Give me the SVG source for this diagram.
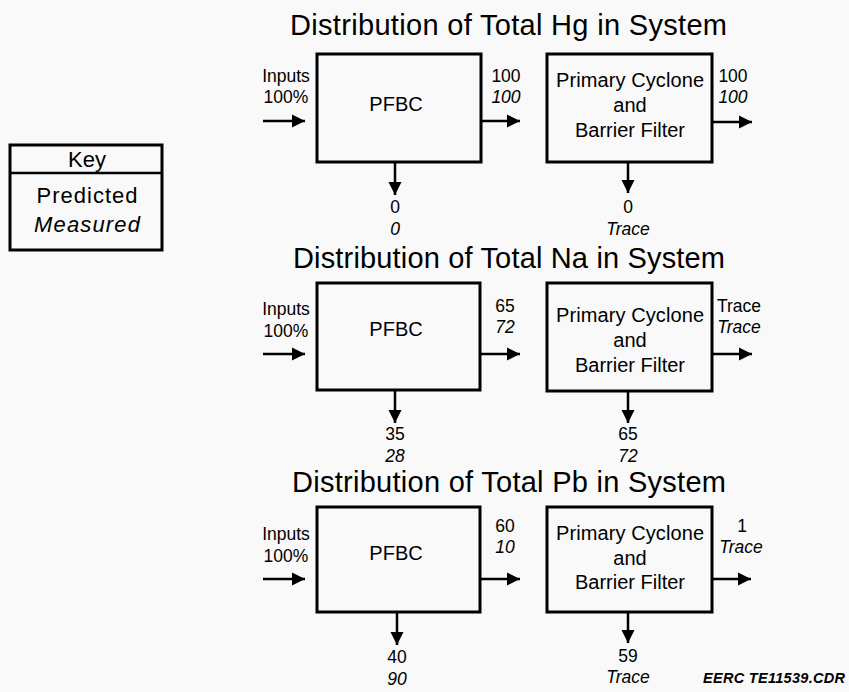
<svg xmlns="http://www.w3.org/2000/svg" width="849" height="692" viewBox="0 0 849 692">
<defs>
<marker id="ah" markerUnits="userSpaceOnUse" markerWidth="14" markerHeight="14" refX="13" refY="7" orient="auto" viewBox="0 0 14 14">
<path d="M0,0.5 L13,7 L0,13.5 z" fill="#000"/>
</marker>
<style>
text{font-family:"Liberation Sans",Arial,Helvetica,sans-serif;fill:#000}
.t{font-size:29px}
.b{font-size:20px;text-anchor:middle}
.l{font-size:17.5px;text-anchor:middle}
.i{font-style:italic}
.k{font-size:22px;text-anchor:middle}
.box{fill:none;stroke:#000;stroke-width:3}
.c{fill:none;stroke:#000;stroke-width:2.5;marker-end:url(#ah)}
</style>
</defs>
<rect width="849" height="692" fill="#f8f9f8"/>

<g id="key">
<rect class="box" x="10" y="145" width="152" height="105"/>
<line x1="10" y1="173" x2="162" y2="173" stroke="#000" stroke-width="2.5"/>
<text class="k" x="87" y="167">Key</text>
<text class="k" x="87" y="203" textLength="101">Predicted</text>
<text class="k i" x="87" y="232" textLength="106">Measured</text>
</g>

<g id="titles">
<text class="t" x="290" y="35" textLength="437">Distribution of Total Hg in System</text>
<text class="t" x="293" y="268" textLength="432">Distribution of Total Na in System</text>
<text class="t" x="292" y="492" textLength="434">Distribution of Total Pb in System</text>
</g>

<g id="hg-pfbc">
<rect class="box" x="317" y="54" width="164" height="108"/>
<text class="b" x="396" y="111">PFBC</text>
</g>
<g id="hg-cyclone">
<rect class="box" x="547" y="54" width="165" height="108"/>
<text class="b" x="630" y="87" textLength="148">Primary Cyclone</text>
<text class="b" x="630" y="112">and</text>
<text class="b" x="630" y="137">Barrier Filter</text>
</g>

<g id="na-pfbc">
<rect class="box" x="317" y="283" width="163" height="107"/>
<text class="b" x="396" y="336">PFBC</text>
</g>
<g id="na-cyclone">
<rect class="box" x="547" y="283" width="165" height="108"/>
<text class="b" x="630" y="322" textLength="148">Primary Cyclone</text>
<text class="b" x="630" y="347">and</text>
<text class="b" x="630" y="372">Barrier Filter</text>
</g>

<g id="pb-pfbc">
<rect class="box" x="317" y="507" width="163" height="105"/>
<text class="b" x="396" y="560">PFBC</text>
</g>
<g id="pb-cyclone">
<rect class="box" x="547" y="507" width="165" height="105"/>
<text class="b" x="630" y="540" textLength="148">Primary Cyclone</text>
<text class="b" x="630" y="565">and</text>
<text class="b" x="630" y="589">Barrier Filter</text>
</g>

<g id="connectors">
<path class="c" d="M263,121 H305"/>
<path class="c" d="M481,121 H520"/>
<path class="c" d="M712,122 H752"/>
<path class="c" d="M395,162 V195"/>
<path class="c" d="M628,162 V193"/>

<path class="c" d="M263,354 H305"/>
<path class="c" d="M480,354 H520"/>
<path class="c" d="M712,354 H752"/>
<path class="c" d="M395,390 V423"/>
<path class="c" d="M628,391 V423"/>

<path class="c" d="M263,579 H305"/>
<path class="c" d="M480,579 H520"/>
<path class="c" d="M712,579 H751"/>
<path class="c" d="M397,612 V645"/>
<path class="c" d="M628,612 V643"/>
</g>

<g id="labels">
<text class="l" x="286" y="82">Inputs</text>
<text class="l" x="286" y="103">100%</text>
<text class="l" x="506" y="82">100</text>
<text class="l i" x="506" y="103">100</text>
<text class="l" x="733" y="82">100</text>
<text class="l i" x="733" y="103">100</text>
<text class="l" x="395" y="213">0</text>
<text class="l i" x="395" y="235">0</text>
<text class="l" x="628" y="213">0</text>
<text class="l i" x="628" y="235">Trace</text>

<text class="l" x="286" y="315">Inputs</text>
<text class="l" x="286" y="337">100%</text>
<text class="l" x="505" y="312">65</text>
<text class="l i" x="505" y="333">72</text>
<text class="l" x="739" y="312">Trace</text>
<text class="l i" x="739" y="333">Trace</text>
<text class="l" x="395" y="440">35</text>
<text class="l i" x="395" y="462">28</text>
<text class="l" x="628" y="440">65</text>
<text class="l i" x="628" y="462">72</text>

<text class="l" x="286" y="540">Inputs</text>
<text class="l" x="286" y="562">100%</text>
<text class="l" x="505" y="532">60</text>
<text class="l i" x="505" y="553">10</text>
<text class="l" x="742" y="532">1</text>
<text class="l i" x="741" y="553">Trace</text>
<text class="l" x="397" y="663">40</text>
<text class="l i" x="397" y="685">90</text>
<text class="l" x="628" y="662">59</text>
<text class="l i" x="628" y="683">Trace</text>

<text x="703" y="683" font-size="14.5" font-weight="bold" font-style="italic" textLength="142">EERC TE11539.CDR</text>
</g>
</svg>
